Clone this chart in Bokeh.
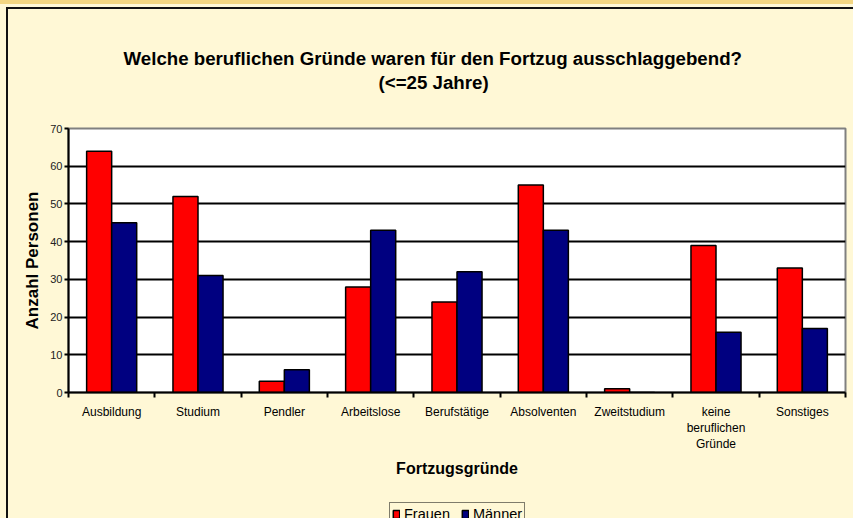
from bokeh.plotting import figure
from bokeh.models import Range1d, FixedTicker, Legend, ColumnDataSource, Title
from bokeh.layouts import column
from bokeh.transform import dodge
from bokeh.embed import file_html
from bokeh.resources import INLINE

categories = ["Ausbildung", "Studium", "Pendler", "Arbeitslose", "Berufstätige",
              "Absolventen", "Zweitstudium", "keine\nberuflichen\nGründe", "Sonstiges"]
frauen = [64, 52, 3, 28, 24, 55, 1, 39, 33]
maenner = [45, 31, 6, 43, 32, 43, 0, 16, 17]
y_ticks = [0, 10, 20, 30, 40, 50, 60, 70]
series_names = ["Frauen", "Männer"]
title_line1 = "Welche beruflichen Gründe waren für den Fortzug ausschlaggebend?"
title_line2 = "(<=25 Jahre)"

BG = "#FFF8D6"
RED = "#FF0000"
NAVY = "#000080"
FONT = "Liberation Sans"

pos = [i + 0.5 for i in range(len(categories))]
src = ColumnDataSource(dict(pos=pos, frauen=frauen, maenner=maenner))

p = figure(width=853, height=498, x_range=Range1d(0, len(categories)), y_range=Range1d(0, 70),
           output_backend="svg", toolbar_location=None, title=None,
           min_border_left=68, min_border_right=8, min_border_top=128, min_border_bottom=106)
p.background_fill_color = "white"
p.border_fill_color = BG
p.border_fill_alpha = 0
p.styles = {"background": "linear-gradient(#F3D682,#F3D682) 0 0/100% 4px no-repeat, "
                          "linear-gradient(#111,#111) 6px 7px/100% 2px no-repeat, "
                          "linear-gradient(#111,#111) 6px 7px/2px 100% no-repeat, " + BG}
p.outline_line_color = "#808080"
p.outline_line_width = 2

bw = 0.29
p.vbar(x=dodge("pos", -bw / 2, range=p.x_range), top="frauen", width=bw, bottom=0, source=src,
       fill_color=RED, line_color="black", line_width=1.5)
p.vbar(x=dodge("pos", bw / 2, range=p.x_range), top="maenner", width=bw, bottom=0, source=src,
       fill_color=NAVY, line_color="black", line_width=1.5)

# x axis: labels centred, tick marks at category boundaries
p.xaxis.ticker = FixedTicker(ticks=pos, minor_ticks=list(range(len(categories) + 1)))
p.xaxis.major_label_overrides = {pp: c for pp, c in zip(pos, categories)}
p.xaxis.major_tick_in = 0
p.xaxis.major_tick_out = 0
p.xaxis.minor_tick_in = 0
p.xaxis.minor_tick_out = 5
p.xaxis.minor_tick_line_color = "black"
p.xaxis.minor_tick_line_width = 2
p.xaxis.axis_line_color = "black"
p.xaxis.axis_line_width = 2
p.xaxis.major_label_text_font = FONT
p.xaxis.major_label_text_font_size = "12px"
p.xaxis.major_label_text_color = "black"
p.xaxis.major_label_text_line_height = 1.15
p.xaxis.major_label_standoff = 7
p.xaxis.axis_label = "Fortzugsgründe"
p.xaxis.axis_label_text_font = FONT
p.xaxis.axis_label_text_font_style = "bold"
p.xaxis.axis_label_text_font_size = "16px"
p.xaxis.axis_label_text_color = "black"
p.xaxis.axis_label_standoff = 6

p.yaxis.ticker = FixedTicker(ticks=y_ticks, minor_ticks=[])
p.yaxis.major_tick_in = 0
p.yaxis.major_tick_out = 4
p.yaxis.major_tick_line_color = "black"
p.yaxis.major_tick_line_width = 2
p.yaxis.axis_line_color = "black"
p.yaxis.axis_line_width = 2
p.yaxis.major_label_text_font = FONT
p.yaxis.major_label_text_font_size = "11px"
p.yaxis.major_label_text_color = "#222222"
p.yaxis.major_label_standoff = 2
p.yaxis.axis_label = "Anzahl Personen"
p.yaxis.axis_label_text_font = FONT
p.yaxis.axis_label_text_font_style = "bold"
p.yaxis.axis_label_text_font_size = "17px"
p.yaxis.axis_label_text_color = "black"
p.yaxis.axis_label_standoff = 5

p.xgrid.grid_line_color = None
p.ygrid.ticker = FixedTicker(ticks=y_ticks)
p.ygrid.grid_line_color = "black"
p.ygrid.grid_line_width = 2

# title: spacer next to the frame, then line 2, then line 1
spacer = Title(text=" ", align="left", standoff=21, text_font=FONT, text_font_size="10px")
t2 = Title(text=title_line2, align="left", offset=310, standoff=3,
           text_font=FONT, text_font_style="bold", text_font_size="18.7px", text_color="black")
t1 = Title(text=title_line1, align="left", offset=55, standoff=0,
           text_font=FONT, text_font_style="bold", text_font_size="18.7px", text_color="black")
p.add_layout(spacer, "above")
p.add_layout(t2, "above")
p.add_layout(t1, "above")

# legend strip (bottom of the window, partly cut off like the original)
p2 = figure(width=853, height=20, x_range=Range1d(0, 853), y_range=Range1d(0, 20),
            output_backend="svg", toolbar_location=None, title=None,
            x_axis_location=None, y_axis_location=None, min_border=0)
p2.grid.visible = False
p2.outline_line_color = None
p2.background_fill_alpha = 0
p2.border_fill_alpha = 0
p2.styles = {"background": "linear-gradient(#111,#111) 6px 0/2px 100% no-repeat, " + BG}
# legend-only renderers: a zero-size bar hidden underneath the legend box
key_src = ColumnDataSource(dict(x=[400], top=[0]))
lr1 = p2.vbar(x="x", top="top", width=0, source=key_src, fill_color=RED, line_color="black", line_width=1.5)
lr2 = p2.vbar(x="x", top="top", width=0, source=key_src, fill_color=NAVY, line_color="black", line_width=1.5)

legend = Legend(items=[(series_names[0], [lr1]), (series_names[1], [lr2])], orientation="horizontal",
                location=(321, -7))
legend.label_text_font = FONT
legend.label_text_font_size = "14.5px"
legend.label_text_color = "black"
legend.label_height = 17
legend.glyph_width = 8
legend.glyph_height = 10
legend.label_standoff = 4
legend.spacing = 11
legend.padding = 2
legend.margin = 0
legend.border_line_color = "black"
legend.border_line_width = 1
legend.background_fill_color = BG
legend.background_fill_alpha = 1
p2.add_layout(legend, "center")

layout = column(p, p2, spacing=0)
open("out.html", "w").write(file_html(layout, INLINE))
